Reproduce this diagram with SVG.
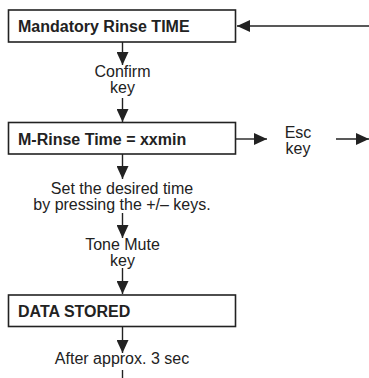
<svg xmlns="http://www.w3.org/2000/svg" width="369" height="378" viewBox="0 0 369 378">
<defs>
<style>
.box{fill:#fff;stroke:#222;stroke-width:1.6}
.bt{font-family:"Liberation Sans",Arial,sans-serif;font-size:16px;font-weight:bold;fill:#222}
.t{font-family:"Liberation Sans",Arial,sans-serif;font-size:16px;fill:#222;text-anchor:middle}
.c{stroke:#222;stroke-width:1.4;fill:none}
</style>
<marker id="ah" markerUnits="userSpaceOnUse" markerWidth="14" markerHeight="12" refX="13" refY="6" orient="auto">
<path d="M0,0 L13,6 L0,12 Z" fill="#222"/>
</marker>
</defs>
<rect width="369" height="378" fill="#fff"/>
<g id="connectors">
<line class="c" x1="369" y1="26" x2="237" y2="26" marker-end="url(#ah)"/>
<line class="c" x1="122.5" y1="42" x2="122.5" y2="65" marker-end="url(#ah)"/>
<line class="c" x1="122.5" y1="98" x2="122.5" y2="122" marker-end="url(#ah)"/>
<line class="c" x1="236" y1="139" x2="267" y2="139" marker-end="url(#ah)"/>
<line class="c" x1="336" y1="139" x2="369" y2="139" marker-end="url(#ah)"/>
<line class="c" x1="122.5" y1="154" x2="122.5" y2="179" marker-end="url(#ah)"/>
<line class="c" x1="122.5" y1="213" x2="122.5" y2="238" marker-end="url(#ah)"/>
<line class="c" x1="122.5" y1="268" x2="122.5" y2="294" marker-end="url(#ah)"/>
<line class="c" x1="122.5" y1="327" x2="122.5" y2="353" marker-end="url(#ah)"/>
<line class="c" x1="122.5" y1="370" x2="122.5" y2="378"/>
</g>
<g id="node-mandatory">
<rect class="box" x="8.5" y="10" width="227" height="32"/>
<text class="bt" x="18" y="32">Mandatory Rinse TIME</text>
</g>
<g id="label-confirm">
<text class="t" x="122.5" y="77">Confirm</text>
<text class="t" x="122.5" y="93">key</text>
</g>
<g id="node-mrinse">
<rect class="box" x="8.5" y="122.5" width="227" height="31.5"/>
<text class="bt" x="18" y="144.5">M-Rinse Time = xxmin</text>
</g>
<g id="label-esc">
<text class="t" x="298" y="138">Esc</text>
<text class="t" x="298" y="154">key</text>
</g>
<g id="label-set">
<text class="t" x="122" y="194">Set the desired time</text>
<text class="t" x="122" y="210">by pressing the +/– keys.</text>
</g>
<g id="label-tone">
<text class="t" x="122.5" y="250">Tone Mute</text>
<text class="t" x="122.5" y="266">key</text>
</g>
<g id="node-stored">
<rect class="box" x="8.5" y="295" width="227" height="31.5"/>
<text class="bt" x="18" y="317">DATA STORED</text>
</g>
<g id="label-after">
<text class="t" x="122" y="364">After approx. 3 sec</text>
</g>
</svg>
